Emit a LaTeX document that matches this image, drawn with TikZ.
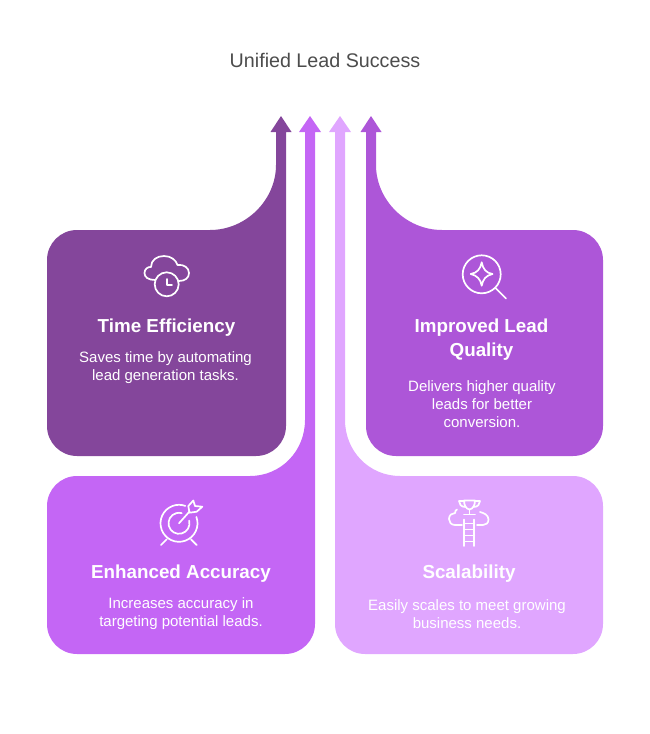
\documentclass[tikz,border=0pt]{standalone}
\usepackage{fontspec}
\setmainfont{Liberation Sans}
\definecolor{darkplum}{HTML}{84469B}
\definecolor{violet}{HTML}{C466F5}
\definecolor{lilac}{HTML}{E0A6FF}
\definecolor{orchid}{HTML}{AD56D8}
\tikzset{
  heading/.style={text=white,font=\fontsize{18.8}{24}\selectfont\bfseries,align=center},
  body/.style={text=white,font=\fontsize{15}{18}\selectfont,align=center},
  icon/.style={draw=white,line width=1.7pt,line cap=round,line join=round}
}
\begin{document}
\begin{tikzpicture}[x=1pt,y=-1pt]
\useasboundingbox (0,0) rectangle (650,734);
\node[font=\fontsize{19.7}{24}\selectfont,text=black!70] (title) at (325,60.5) {Unified Lead Success};
% arrows with their boxes
\fill[darkplum] (281,116) -- (291.5,132) -- (286,132) -- (286,426) arc (0:90:30) -- (77,456) arc (90:180:30) -- (47,260) arc (180:270:30) -- (210,230)
  .. controls (246,230) and (276,200) .. (276,165) -- (276,132) -- (270.5,132) -- cycle;
\fill[violet] (310,116) -- (321,132) -- (315,132) -- (315,624) arc (0:90:30) -- (77,654) arc (90:180:30) -- (47,506) arc (180:270:30) -- (250,476)
  .. controls (281,476) and (305,451) .. (305,420) -- (305,132) -- (299,132) -- cycle;
\fill[lilac] (340,116) -- (351,132) -- (345,132) -- (345,420) .. controls (345,451) and (369,476) .. (400,476)
  -- (573,476) arc (-90:0:30) -- (603,624) arc (0:90:30) -- (365,654) arc (90:180:30) -- (335,132) -- (329,132) -- cycle;
\fill[orchid] (371,116) -- (381.5,132) -- (376,132) -- (376,165) .. controls (376,200) and (406,230) .. (442,230)
  -- (573,230) arc (-90:0:30) -- (603,426) arc (0:90:30) -- (396,456) arc (90:180:30) -- (366,132) -- (360.5,132) -- cycle;
% cloud and clock
\draw[icon] (155,280) .. controls (148,280) and (144.5,277) .. (144.5,273) .. controls (144.5,269) and (148,266.5) .. (151,267)
  .. controls (151,260) and (157,256) .. (164,256) .. controls (171,256) and (176,260) .. (177.5,265)
  .. controls (184,264) and (189,268) .. (189,273) .. controls (189,278) and (185,281) .. (179,281);
\draw[icon] (166.7,284.3) circle (12);
\draw[icon] (167,279) -- (167,285) -- (172,285);
% magnifier and star
\draw[icon] (481.7,274.3) circle (19);
\draw[icon] (495.5,288) -- (506,298.5);
\draw[icon] (481.7,262.3) .. controls (483,269) and (486,273) .. (492.5,274)
  .. controls (486,275.5) and (483,279) .. (481.7,285.7) .. controls (480.5,279) and (477,275.5) .. (470.7,274)
  .. controls (477,273) and (480.5,269) .. (481.7,262.3) -- cycle;
% target
\draw[icon] ([shift={(-20:18.5)}]179,523.3) arc (-20:290:18.5);
\draw[icon] ([shift={(-15:10.5)}]179,523.3) arc (-15:285:10.5);
\draw[icon] (179,523.3) -- (189.5,511.5);
\draw[icon] (188.3,506) -- (193.3,500.5) -- (195,506) -- (202.3,506.7) -- (196.7,511.7) -- (189.5,512.7) -- cycle;
\draw[icon] (166.7,539.3) -- (161,545);
\draw[icon] (191,539.3) -- (196.7,545);
% ladder, trophy and cloud
\draw[icon] (464.3,519.5) -- (464.3,546);
\draw[icon] (474.3,519.5) -- (474.3,546);
\foreach \i in {0,...,3} {
\draw[icon] (464.3,523.5+6*\i) -- (474.3,523.5+6*\i);
};
\draw[icon] (464,500.5) .. controls (464,505) and (466,509) .. (469.5,509.5) .. controls (473,509) and (475,505) .. (475,500.5) -- cycle;
\draw[icon] (464,501) -- (459,501) .. controls (459,504) and (461,507) .. (465.5,507);
\draw[icon] (475,501) -- (480,501) .. controls (480,504) and (478,507) .. (473.5,507);
\draw[icon] (469.5,510) -- (469.5,514);
\draw[icon] (464,514.5) -- (475,514.5);
\draw[icon] (462,525) -- (455,525) .. controls (451,525) and (449,522) .. (449,519) .. controls (449,515) and (452,513) .. (455,513)
  .. controls (455,511) and (456,510) .. (457,509.5);
\draw[icon] (480,512) .. controls (484,513) and (488.5,515) .. (488.5,519.5) .. controls (488.5,523) and (486,525) .. (483,525) -- (477,525);
% texts
\node[heading] (timehead) at (166.5,327.5) {Time Efficiency};
\node[body] (timetext) at (165.5,368) {Saves time by automating\\lead generation tasks.};
\node[heading] (qualityhead) at (481.5,339.5) {Improved Lead\\Quality};
\node[body] (qualitytext) at (482,404) {Delivers higher quality\\leads for better\\conversion.};
\node[heading] (accuracyhead) at (181,573.5) {Enhanced Accuracy};
\node[body] (accuracytext) at (181,614) {Increases accuracy in\\targeting potential leads.};
\node[heading] (scalehead) at (469,573.5) {Scalability};
\node[body] (scaletext) at (467,614) {Easily scales to meet growing\\business needs.};
\end{tikzpicture}
\end{document}
